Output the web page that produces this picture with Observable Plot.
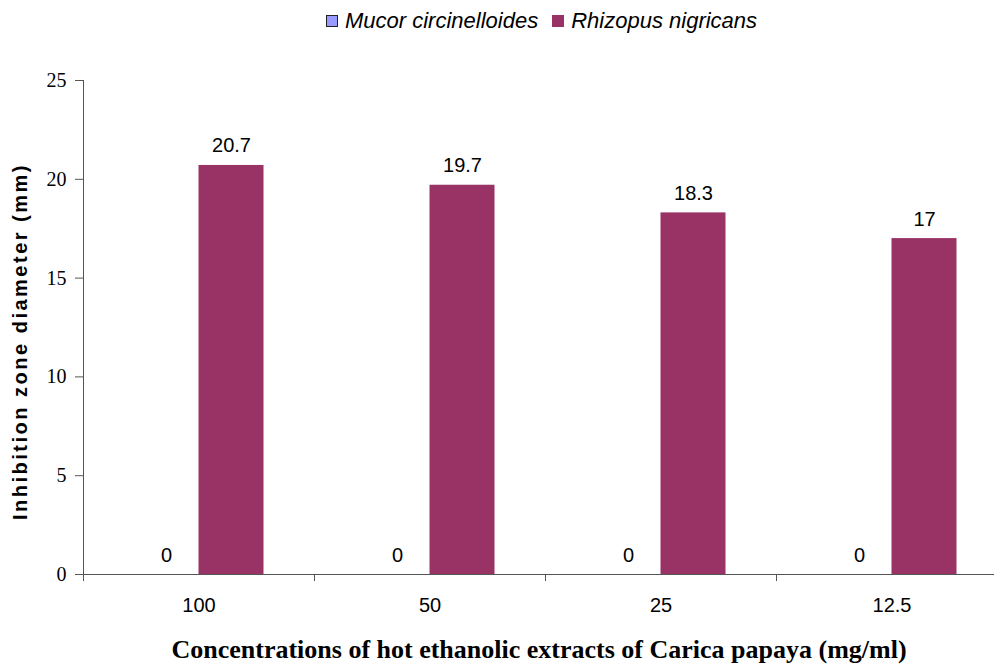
<!DOCTYPE html>
<html><head><meta charset="utf-8">
<script src="https://cdn.jsdelivr.net/npm/d3@7"></script>
<script src="https://cdn.jsdelivr.net/npm/@observablehq/plot@0.6"></script>
<style>
html,body{margin:0;padding:0;background:#fff;overflow:hidden;}
#legend{height:40px;position:relative;font-family:"Liberation Sans",Arial,sans-serif;font-size:22px;font-style:italic;color:#000;}
#legend .items{position:absolute;left:326px;top:8px;display:flex;align-items:center;white-space:nowrap;line-height:26px;}
#legend .sw{display:inline-block;width:12px;height:12px;margin-right:7px;box-sizing:border-box;}
#legend .it{display:flex;align-items:center;margin-right:14px;}
svg{display:block;}
</style>
</head><body>
<div id="legend"><div class="items"></div></div>
<div id="chart"></div>
<script>
const categories = ["100", "50", "25", "12.5"];
const seriesNames = ["Mucor circinelloides", "Rhizopus nigricans"];
const mucorValues = [0, 0, 0, 0];
const rhizopusValues = [20.7, 19.7, 18.3, 17];
const yTicks = [0, 5, 10, 15, 20, 25];
const colors = ["#9999FF", "#993366"];

const mucor = categories.map((c, i) => ({cat: c, value: mucorValues[i]}));
const rhiz = categories.map((c, i) => ({cat: c, value: rhizopusValues[i]}));

// legend
const leg = document.querySelector("#legend .items");
seriesNames.forEach((n, i) => {
  const it = document.createElement("span"); it.className = "it";
  const sw = document.createElement("span"); sw.className = "sw";
  sw.style.background = colors[i];
  sw.style.border = i === 0 ? "1.5px solid #222" : "none";
  it.appendChild(sw);
  it.appendChild(document.createTextNode(n));
  leg.appendChild(it);
});

const band = 231;
const half = band / 2;
const barW = 65;
const outer = half - barW;
const serif = "'Liberation Serif', 'Times New Roman', serif";
const sans = "'Liberation Sans', Arial, sans-serif";

const plot = Plot.plot({
  width: 994,
  height: 631,
  marginTop: 40,
  marginBottom: 97,
  marginLeft: 83,
  marginRight: 0,
  x: {domain: categories, range: [83, 83 + band * 4], padding: 0, label: null},
  y: {domain: [0, 25], label: null},
  style: {fontFamily: sans, background: "#fff", overflow: "hidden"},
  marks: [
    Plot.barY(mucor, {x: "cat", y: "value", fill: colors[0], insetLeft: outer, insetRight: half}),
    Plot.barY(rhiz, {x: "cat", y: "value", fill: colors[1], insetLeft: half, insetRight: outer}),
    Plot.text(mucor, {x: "cat", y: "value", text: d => String(d.value), dx: -barW / 2, lineAnchor: "bottom", dy: -13, fontSize: 20, fill: "#000"}),
    Plot.text(rhiz, {x: "cat", y: "value", text: d => String(d.value), dx: barW / 2, lineAnchor: "bottom", dy: -13, fontSize: 20, fill: "#000"}),
    Plot.ruleY([0], {stroke: "#555", strokeWidth: 1}),
    Plot.frame({anchor: "left", stroke: "#555"}),
    Plot.axisY({ticks: yTicks, tickSize: 8, text: null, stroke: "#555"}),
    Plot.text(yTicks, {y: d => d, text: d => String(d), frameAnchor: "left", dx: -17, textAnchor: "end", fontSize: 20, fontFamily: serif, fill: "#000"}),
    Plot.axisX({tickSize: 0, tickPadding: 23, fontSize: 20, fill: "#000", tickFormat: d => d}),
    Plot.axisX({tickSize: 7, text: null, dx: -half, stroke: "#555"}),
    Plot.text(["Inhibition zone diameter (mm)"], {frameAnchor: "left", textAnchor: "middle", rotate: -90, dx: -63, dy: 14, fontWeight: "bold", fontSize: 20, fill: "#000", fontFamily: sans}),
    Plot.text(["Concentrations of hot ethanolic extracts of Carica papaya (mg/ml)"], {frameAnchor: "bottom", dy: 83, fontWeight: "bold", fontSize: 26, fill: "#000", fontFamily: serif})
  ]
});
document.getElementById("chart").appendChild(plot);
d3.select(plot).selectAll("text").filter(function() { return this.textContent === "Inhibition zone diameter (mm)"; }).attr("letter-spacing", "2.5px");
</script>
</body></html>
